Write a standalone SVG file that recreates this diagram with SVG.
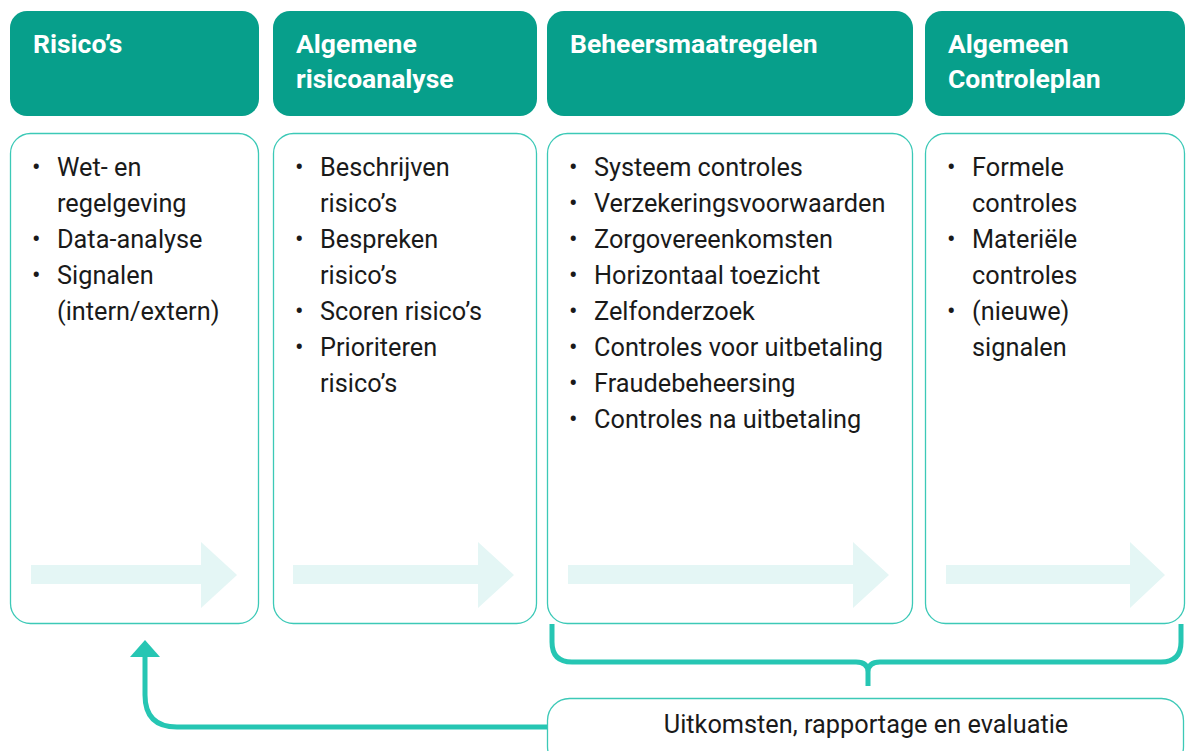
<svg xmlns="http://www.w3.org/2000/svg" width="1186" height="751" viewBox="0 0 1186 751">
<defs>
<style>
.hdr{fill:#079f8b}
.card{fill:#fff;stroke:#3cc9b7;stroke-width:1.3}
.ht{font-family:Roboto,"Liberation Sans",sans-serif;font-weight:bold;font-size:26.5px;fill:#fff}
.bt{font-family:Roboto,"Liberation Sans",sans-serif;font-size:25.3px;fill:#1a1a1a}
.flow{fill:#e4f6f5}
.con{fill:none;stroke:#26c6b3;stroke-width:5}
</style>
</defs>
<rect width="1186" height="751" fill="#fff"/>
<g id="risicos">
<rect class="hdr" x="10" y="11" width="249" height="105" rx="17"/>
<text class="ht" x="33" y="53">Risico’s</text>
<rect class="card" x="10.5" y="133.5" width="248" height="490" rx="20"/>
<g class="bt">
<text x="32" y="176">•</text><text x="57" y="176">Wet- en</text>
<text x="57" y="212">regelgeving</text>
<text x="32" y="248">•</text><text x="57" y="248">Data-analyse</text>
<text x="32" y="284">•</text><text x="57" y="284">Signalen</text>
<text x="57" y="320">(intern/extern)</text>
</g>
<polygon class="flow" points="31,565 201,565 201,542 237,575 201,608 201,584 31,584"/>
</g>
<g id="risicoanalyse">
<rect class="hdr" x="273" y="11" width="264" height="105" rx="17"/>
<text class="ht" x="296" y="53">Algemene</text>
<text class="ht" x="296" y="88">risicoanalyse</text>
<rect class="card" x="273.5" y="133.5" width="263" height="490" rx="20"/>
<g class="bt">
<text x="295" y="176">•</text><text x="320" y="176">Beschrijven</text>
<text x="320" y="212">risico’s</text>
<text x="295" y="248">•</text><text x="320" y="248">Bespreken</text>
<text x="320" y="284">risico’s</text>
<text x="295" y="320">•</text><text x="320" y="320">Scoren risico’s</text>
<text x="295" y="356">•</text><text x="320" y="356">Prioriteren</text>
<text x="320" y="392">risico’s</text>
</g>
<polygon class="flow" points="293,565 478,565 478,542 514,575 478,608 478,584 293,584"/>
</g>
<g id="beheersmaatregelen">
<rect class="hdr" x="547" y="11" width="366" height="105" rx="17"/>
<text class="ht" x="570" y="53">Beheersmaatregelen</text>
<rect class="card" x="547.5" y="133.5" width="365" height="490" rx="20"/>
<g class="bt">
<text x="569" y="176">•</text><text x="594" y="176">Systeem controles</text>
<text x="569" y="212">•</text><text x="594" y="212">Verzekeringsvoorwaarden</text>
<text x="569" y="248">•</text><text x="594" y="248">Zorgovereenkomsten</text>
<text x="569" y="284">•</text><text x="594" y="284">Horizontaal toezicht</text>
<text x="569" y="320">•</text><text x="594" y="320">Zelfonderzoek</text>
<text x="569" y="356">•</text><text x="594" y="356">Controles voor uitbetaling</text>
<text x="569" y="392">•</text><text x="594" y="392">Fraudebeheersing</text>
<text x="569" y="428">•</text><text x="594" y="428">Controles na uitbetaling</text>
</g>
<polygon class="flow" points="568,565 853,565 853,542 889,575 853,608 853,584 568,584"/>
</g>
<g id="controleplan">
<rect class="hdr" x="925" y="11" width="260" height="105" rx="17"/>
<text class="ht" x="948" y="53">Algemeen</text>
<text class="ht" x="948" y="88">Controleplan</text>
<rect class="card" x="925.5" y="133.5" width="259" height="490" rx="20"/>
<g class="bt">
<text x="947" y="176">•</text><text x="972" y="176">Formele</text>
<text x="972" y="212">controles</text>
<text x="947" y="248">•</text><text x="972" y="248">Materiële</text>
<text x="972" y="284">controles</text>
<text x="947" y="320">•</text><text x="972" y="320">(nieuwe)</text>
<text x="972" y="356">signalen</text>
</g>
<polygon class="flow" points="946,565 1130,565 1130,542 1165,575 1130,608 1130,584 946,584"/>
</g>
<g id="uitkomsten">
<rect class="card" x="547.5" y="698.5" width="636" height="70" rx="22"/>
<text x="866" y="733" text-anchor="middle" font-family="Roboto,'Liberation Sans',sans-serif" font-size="25.3" fill="#1a1a1a">Uitkomsten, rapportage en evaluatie</text>
</g>
<g id="connectors">
<path class="con" d="M552,624 V642 Q552,662 572,662 H856 Q868,662 868,672 V686 M868,672 Q868,662 880,662 H1161 Q1181,662 1181,642 V624"/>
<path class="con" d="M547,727 H177 Q145,727 145,695 V655"/>
<polygon points="130,657 160,657 145,640" fill="#26c6b3"/>
</g>
</svg>
